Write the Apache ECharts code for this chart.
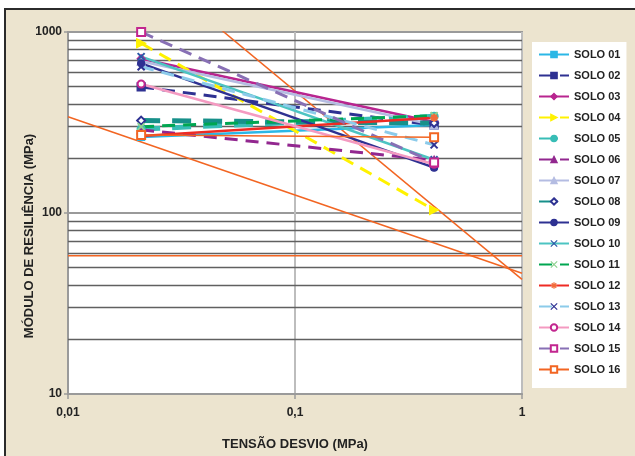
<!DOCTYPE html>
<html>
<head>
<meta charset="utf-8">
<script src="https://cdn.jsdelivr.net/npm/echarts@6/dist/echarts.min.js"></script>
<style>
  html, body { margin: 0; padding: 0; background: #fff; }
  #chart { width: 635px; height: 456px; }
</style>
</head>
<body>
<div id="chart"></div>
<script>
// Tensão desvio (MPa) at which each soil was tested
const stress = [0.021, 0.41];

// Módulo de resiliência (MPa) per soil, at the two stress levels
const solo01 = [263, 306];
const solo02 = [497, 306];
const solo03 = [712, 318];
const solo04 = [866, 104];
const solo05 = [291, 342];
const solo06 = [288, 196];
const solo07 = [690, 306];
const solo08 = [324, 314];
const solo09 = [671, 178];
const solo10 = [731, 197];
const solo11 = [300, 345];
const solo12 = [266, 336];
const solo13 = [643, 238];
const solo14 = [516, 186];
const solo15 = [1000, 190];
const solo16 = [270, 262];

const soloNames = ['SOLO 01', 'SOLO 02', 'SOLO 03', 'SOLO 04', 'SOLO 05', 'SOLO 06',
  'SOLO 07', 'SOLO 08', 'SOLO 09', 'SOLO 10', 'SOLO 11', 'SOLO 12',
  'SOLO 13', 'SOLO 14', 'SOLO 15', 'SOLO 16'];
const soloValues = [solo01, solo02, solo03, solo04, solo05, solo06, solo07, solo08,
  solo09, solo10, solo11, solo12, solo13, solo14, solo15, solo16];

// Reference lines (power-law fits) spanning the plot
const refShallowX = [0.01, 1];
const refShallowY = [340, 46.5];
const refSteepX = [0.0468, 1];
const refSteepY = [1040, 43];
const refFlatX = [0.01, 1];
const refFlatY = [58, 58];

// Axis ticks and their printed labels
const xTicks = [0.01, 0.1, 1];
const xTickLabels = ['0,01', '0,1', '1'];
const yTicks = [10, 100, 1000];
const yTickLabels = ['10', '100', '1000'];
// Intermediate horizontal grid lines of the log scale
const minorGrid = [20, 30, 40, 50, 60, 70, 80, 90, 200, 300, 400, 500, 600, 700, 800, 900];

const FONT = '"Liberation Sans", Arial, sans-serif';
const SYM_X = 'path://M0,0L10,10M10,0L0,10';
const SYM_STAR = 'path://M5,0L5,10M0,5L10,5M1.5,1.5L8.5,8.5M8.5,1.5L1.5,8.5';

// Drawing style of each soil series
const styles = [
  { color: '#2bb7e6', width: 2.5, dash: 'solid', symbol: 'rect', size: 7, mColor: '#2bb7e6' },
  { color: '#2e3192', width: 3, dash: [13, 8], symbol: 'rect', size: 8, mColor: '#2e3192' },
  { color: '#b8258f', width: 2.5, dash: 'solid', symbol: 'diamond', size: 8, mColor: '#b8258f' },
  { color: '#fff200', width: 3, dash: [13, 8], symbol: 'triangle', size: 9, mColor: '#fff200', rotate: -90 },
  { color: '#38bdb6', width: 5, dash: [19, 12], symbol: 'circle', size: 8, mColor: '#38bdb6' },
  { color: '#92278f', width: 3, dash: [13, 8], symbol: 'triangle', size: 8, mColor: '#92278f' },
  { color: '#b4bce2', width: 2.5, dash: 'solid', symbol: 'triangle', size: 8, mColor: '#b4bce2' },
  { color: '#17908a', width: 5, dash: [19, 12], symbol: 'emptyDiamond', size: 8, mColor: '#2e3192' },
  { color: '#2e3192', width: 2.5, dash: 'solid', symbol: 'circle', size: 7, mColor: '#2e3192' },
  { color: '#4cc4c2', width: 2.5, dash: 'solid', symbol: SYM_X, size: 7, mColor: '#2b59a8', stroke: true },
  { color: '#00a651', width: 3, dash: [13, 8], symbol: SYM_X, size: 7, mColor: '#8fd18f', stroke: true },
  { color: '#ee2b24', width: 2.5, dash: 'solid', symbol: SYM_STAR, size: 8, mColor: '#f26b3a', stroke: true },
  { color: '#8ccbea', width: 3, dash: [13, 8], symbol: SYM_X, size: 7, mColor: '#2e3192', stroke: true },
  { color: '#f49ac1', width: 2.5, dash: 'solid', symbol: 'emptyCircle', size: 7, mColor: '#c2268f' },
  { color: '#8870b5', width: 3, dash: [13, 8], symbol: 'emptyRect', size: 8, mColor: '#c2268f' },
  { color: '#f26522', width: 1.5, dash: 'solid', symbol: 'emptyRect', size: 8, mColor: '#f26522' }
];

function pairs(xs, ys) {
  return xs.map(function (x, i) { return [x, ys[i]]; });
}

const series = [];

// Reference lines first, so the soil series sit above them
const refStyle = { color: '#f26522', width: 1.5, type: 'solid' };
[[refShallowX, refShallowY], [refSteepX, refSteepY], [refFlatX, refFlatY]].forEach(function (r, i) {
  const s = {
    type: 'line',
    name: 'ref' + i,
    data: pairs(r[0], r[1]),
    showSymbol: false,
    symbol: 'none',
    silent: true,
    lineStyle: refStyle,
    z: 2
  };
  if (i === 0) {
    s.markLine = {
      silent: true,
      symbol: 'none',
      z: 1,
      label: { show: false },
      lineStyle: { color: '#606060', width: 1.3, type: 'solid' },
      emphasis: { disabled: true },
      data: minorGrid.map(function (v) { return { yAxis: v }; })
    };
  }
  series.push(s);
});

soloNames.forEach(function (name, i) {
  const st = styles[i];
  const itemStyle = st.stroke
    ? { color: st.mColor, borderColor: st.mColor, borderWidth: 2 }
    : { color: st.mColor, borderColor: st.mColor, borderWidth: 1.2 };
  series.push({
    type: 'line',
    name: name,
    data: pairs(stress, soloValues[i]),
    symbol: st.symbol,
    symbolSize: st.size,
    symbolRotate: st.rotate || 0,
    showSymbol: true,
    lineStyle: { color: st.color, width: st.width, type: st.dash },
    itemStyle: itemStyle,
    color: st.color,
    z: 3
  });
});

function tickText(ticks, labels) {
  return function (v) {
    for (let k = 0; k < ticks.length; k++) {
      if (Math.abs(Math.log10(v) - Math.log10(ticks[k])) < 1e-6) return labels[k];
    }
    return '';
  };
}

const chart = echarts.init(document.getElementById('chart'), null, { renderer: 'canvas' });
chart.setOption({
  animation: false,
  backgroundColor: '#ffffff',
  textStyle: { fontFamily: FONT },
  graphic: [
    {
      type: 'rect',
      z: -100,
      silent: true,
      shape: { x: 5, y: 9, width: 640, height: 460 },
      style: { fill: '#ece4cf', stroke: '#2b2b2b', lineWidth: 2 }
    },
    {
      type: 'text',
      z: 10,
      silent: true,
      x: 29,
      y: 236,
      rotation: Math.PI / 2,
      style: {
        text: 'MÓDULO DE RESILIÊNCIA (MPa)',
        font: 'bold 13px ' + FONT,
        fill: '#222',
        textAlign: 'center',
        textVerticalAlign: 'middle'
      }
    }
  ],
  grid: {
    left: 68, top: 32, right: 113, bottom: 62,
    show: true,
    backgroundColor: '#ffffff',
    borderColor: '#9a9a9a',
    borderWidth: 2,
    containLabel: false
  },
  legend: {
    orient: 'vertical',
    left: 532,
    top: 42,
    backgroundColor: '#ffffff',
    padding: [6, 6, 12, 6],
    itemWidth: 30,
    itemHeight: 8,
    itemGap: 8,
    itemStyle: { borderWidth: 1.2 },
    textStyle: { fontFamily: FONT, fontWeight: 'bold', fontSize: 11, color: '#222', lineHeight: 13 },
    data: soloNames
  },
  xAxis: {
    type: 'log',
    logBase: 10,
    min: 0.01,
    max: 1,
    name: 'TENSÃO DESVIO (MPa)',
    nameLocation: 'middle',
    nameGap: 44,
    nameTextStyle: { fontFamily: FONT, fontWeight: 'bold', fontSize: 13, color: '#222' },
    axisLine: { show: true, lineStyle: { color: '#9a9a9a', width: 2 } },
    axisTick: { show: true, length: 5, lineStyle: { color: '#9a9a9a', width: 1.5 } },
    axisLabel: {
      margin: 13,
      fontFamily: FONT, fontWeight: 'bold', fontSize: 12, color: '#222',
      formatter: tickText(xTicks, xTickLabels)
    },
    splitLine: { show: true, lineStyle: { color: '#bdbdbd', width: 2 } },
    minorTick: { show: false },
    minorSplitLine: { show: false }
  },
  yAxis: {
    type: 'log',
    logBase: 10,
    min: 10,
    max: 1000,
    axisLine: { show: true, lineStyle: { color: '#9a9a9a', width: 2 } },
    axisTick: { show: true, length: 4, lineStyle: { color: '#9a9a9a', width: 1.5 } },
    axisLabel: {
      margin: 6,
      fontFamily: FONT, fontWeight: 'bold', fontSize: 12, color: '#222',
      formatter: tickText(yTicks, yTickLabels)
    },
    splitLine: { show: true, lineStyle: { color: '#9a9a9a', width: 2 } }
  },
  series: series
});
</script>
</body>
</html>
